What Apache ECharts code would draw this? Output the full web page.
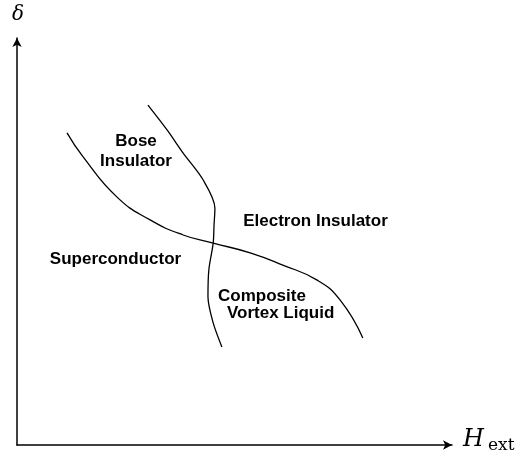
<!DOCTYPE html>
<html><head><meta charset="utf-8">
<script src="https://cdn.jsdelivr.net/npm/echarts@6/dist/echarts.min.js"></script>
<style>html,body{margin:0;padding:0;background:#fff}#c{width:527px;height:464px}</style>
</head><body><div id="c"></div>
<script>
// Phase boundary curves (arbitrary units, 0..100 on each axis)
const boundaryA_x = [11.5, 15.2, 23.0, 30.6, 38.2, 45.1, 53.6, 61.1, 69.0, 74.3, 79.5];
const boundaryA_y = [76.7, 70.8, 60.9, 55.3, 51.6, 49.6, 47.2, 44.2, 40.5, 35.6, 26.3];
const boundaryB_x = [30.1, 34.5, 38.2, 42.8, 45.5, 45.3, 45.1, 44.1, 43.9, 45.1, 47.1];
const boundaryB_y = [83.5, 77.4, 71.7, 65.1, 58.2, 54.1, 49.6, 43.0, 36.4, 30.0, 24.1];
const regionLabels = ['Bose\nInsulator', 'Electron Insulator', 'Superconductor', 'Composite', 'Vortex Liquid'];
const axisNames = ['δ', 'H', 'ext'];

const zip = (xs, ys) => xs.map((x, i) => [x, ys[i]]);
const chart = echarts.init(document.getElementById('c'));
const lbl = {fontFamily: 'Liberation Sans, Arial, sans-serif', fontWeight: 'bold', fontSize: 17, fill: '#000'};
chart.setOption({
  animation: false,
  grid: {left: 17, right: 75, top: 38, bottom: 19},
  xAxis: {type: 'value', min: 0, max: 100, splitLine: {show: false}, axisTick: {show: false}, axisLabel: {show: false},
    axisLine: {lineStyle: {color: '#000', width: 1.5}, symbol: ['none', 'arrow'], symbolSize: [7, 9]}},
  yAxis: {type: 'value', min: 0, max: 100, splitLine: {show: false}, axisTick: {show: false}, axisLabel: {show: false},
    axisLine: {lineStyle: {color: '#000', width: 1.5}, symbol: ['none', 'arrow'], symbolSize: [7, 9]}},
  series: [
    {type: 'line', data: zip(boundaryA_x, boundaryA_y), smooth: 0.5, showSymbol: false, lineStyle: {color: '#000', width: 1.3}},
    {type: 'line', data: zip(boundaryB_x, boundaryB_y), smooth: 0.3, showSymbol: false, lineStyle: {color: '#000', width: 1.3}}
  ],
  graphic: [
    {type: 'text', style: Object.assign({text: regionLabels[0], x: 136, y: 151, align: 'center', verticalAlign: 'middle', lineHeight: 20}, lbl)},
    {type: 'text', style: Object.assign({text: regionLabels[1], x: 315.5, y: 221, align: 'center', verticalAlign: 'middle'}, lbl)},
    {type: 'text', style: Object.assign({text: regionLabels[2], x: 115.5, y: 259, align: 'center', verticalAlign: 'middle'}, lbl)},
    {type: 'text', style: Object.assign({text: regionLabels[3], x: 218, y: 296, align: 'left', verticalAlign: 'middle'}, lbl)},
    {type: 'text', style: Object.assign({text: regionLabels[4], x: 227, y: 313, align: 'left', verticalAlign: 'middle'}, lbl)},
    {type: 'text', style: {text: axisNames[0], x: 18, y: 15, align: 'center', verticalAlign: 'middle', fontFamily: 'DejaVu Serif', fontStyle: 'italic', fontSize: 20, fill: '#000'}},
    {type: 'text', style: {text: axisNames[1], x: 463, y: 452, align: 'left', verticalAlign: 'bottom', fontFamily: 'DejaVu Serif', fontStyle: 'italic', fontSize: 24, fill: '#000'}},
    {type: 'text', style: {text: axisNames[2], x: 488, y: 454, align: 'left', verticalAlign: 'bottom', fontFamily: 'DejaVu Serif', fontSize: 17, fill: '#000'}}
  ]
});
</script></body></html>
